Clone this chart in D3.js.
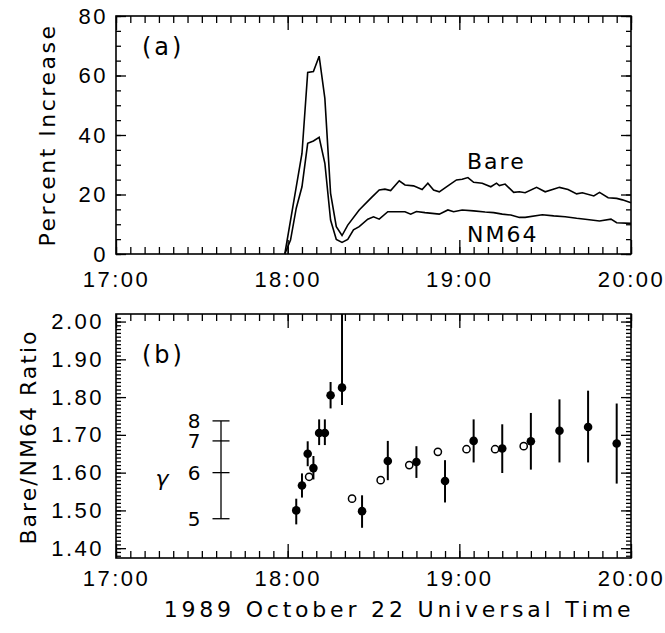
<!DOCTYPE html>
<html lang="en">
<head>
<meta charset="UTF-8">
<title>1989 October 22 GLE</title>
<script src="https://d3js.org/d3.v7.min.js"></script>
<style>
  body { margin: 0; background: #fff; }
  svg { display: block; font-family: 'DejaVu Sans', sans-serif; }
  .tick line { stroke: #000; stroke-width: 1.3; }
  .tick text { font-size: 22px; fill: #000; letter-spacing: 2.5px; }
  .label { font-size: 22px; fill: #000; }
</style>
</head>
<body>
<div id="chart"></div>
<script>
// times are minutes after 17:00 UT
const bareTime  = [59, 63, 65, 67, 69, 71, 73, 75, 77, 79, 81, 85, 89, 92, 94, 96, 99, 101, 104, 107, 109, 111, 113, 116, 119, 121, 123, 125, 128, 131, 133, 134, 136, 139, 141, 143, 147, 150, 155, 158, 161, 163, 167, 169, 172, 175, 177, 180];
const bareValue = [0, 22.6, 33.8, 61.0, 61.3, 66.5, 52.3, 20.4, 9.2, 6.2, 9.7, 14.8, 18.7, 21.5, 21.8, 21.3, 24.6, 23.2, 22.9, 21.7, 23.8, 21.5, 20.9, 22.9, 24.9, 25.1, 25.7, 24.1, 23.8, 22.6, 23.8, 23.0, 23.5, 20.7, 20.9, 20.6, 22.4, 20.9, 22.4, 21.7, 20.2, 20.6, 19.5, 20.7, 18.9, 18.7, 18.2, 17.2];

const nmTime  = [59, 61, 63, 65, 67, 69, 71, 73, 75, 77, 79, 81, 83, 85, 88, 90, 92, 95, 98, 101, 103, 105, 108, 113, 116, 118, 121, 125, 129, 132, 135, 138, 141, 143, 149, 153, 157, 161, 164, 169, 173, 175, 180];
const nmValue = [0, 4.7, 15.4, 22.6, 37.2, 38.0, 39.2, 30.5, 11.4, 4.9, 3.9, 4.9, 8.1, 9.2, 11.7, 12.5, 11.7, 14.2, 14.2, 14.2, 13.4, 14.3, 13.9, 13.4, 14.8, 14.2, 14.8, 14.5, 14.1, 13.9, 13.4, 13.1, 12.3, 12.3, 13.2, 12.8, 12.5, 12.0, 11.7, 11.1, 11.7, 10.5, 10.3];

// Bare/NM64 ratio, filled points with error bars
const ratioTime  = [63, 65, 67, 69, 71, 73, 75, 79, 86, 95, 105, 115, 125, 135, 145, 155, 165, 175];
const ratioValue = [1.50, 1.566, 1.650, 1.612, 1.705, 1.705, 1.805, 1.825, 1.498, 1.631, 1.628, 1.578, 1.684, 1.664, 1.683, 1.711, 1.721, 1.677];
const ratioLow   = [1.463, 1.534, 1.617, 1.582, 1.673, 1.673, 1.770, 1.779, 1.454, 1.580, 1.586, 1.521, 1.627, 1.599, 1.608, 1.627, 1.627, 1.571];
const ratioHigh  = [1.531, 1.598, 1.683, 1.644, 1.741, 1.741, 1.840, 2.05, 1.540, 1.684, 1.670, 1.633, 1.741, 1.728, 1.758, 1.794, 1.817, 1.783];

// open circles
const openTime  = [67.5, 82.5, 92.5, 102.5, 112.5, 122.5, 132.5, 142.5];
const openValue = [1.589, 1.531, 1.580, 1.620, 1.655, 1.662, 1.662, 1.670];

// spectral index scale drawn against the ratio axis
const gammaLabel = ["5", "6", "7", "8"];
const gammaRatio = [1.478, 1.600, 1.684, 1.737];

const percentTicks = [0, 20, 40, 60, 80];
const ratioTicks = [1.40, 1.50, 1.60, 1.70, 1.80, 1.90, 2.00];

const width = 665;
const height = 633;
const left = 116, right = 631;
const panelA = { top: 16, bottom: 254, pad: 17 };
const panelB = { top: 314, bottom: 558, pad: 12 };

const t0 = Date.UTC(1989, 9, 22, 17, 0);
const toDate = m => new Date(t0 + m * 60000);

const x = d3.scaleUtc()
  .domain([toDate(0), toDate(180)])
  .range([left, right]);

const yA = d3.scaleLinear().domain([0, 80]).range([panelA.bottom, panelA.top]);
const yB = d3.scaleLinear().domain([1.374, 2.02]).range([panelB.bottom, panelB.top]);

const svg = d3.select("#chart")
  .append("svg")
  .attr("width", width)
  .attr("height", height);

svg.append("rect").attr("width", width).attr("height", height).attr("fill", "#fff");

const fmt = d3.utcFormat("%H:%M");
const hours = d3.utcHour.every(1).range(toDate(0), toDate(181));
const fiveMin = d3.utcMinute.every(5).range(toDate(0), toDate(181));

function noDomain(g) { g.select(".domain").remove(); }

function frame(p, y, major, minor, yfmt, pad) {
  // bottom axis with labels, top axis without
  svg.append("g")
    .attr("transform", `translate(0,${p.bottom})`)
    .call(d3.axisBottom(x).tickValues(fiveMin).tickSize(-7).tickFormat(""))
    .call(noDomain);
  svg.append("g")
    .attr("transform", `translate(0,${p.bottom})`)
    .call(d3.axisBottom(x).tickValues(hours).tickSize(-14).tickPadding(p.pad).tickFormat(fmt))
    .call(noDomain);
  svg.append("g")
    .attr("transform", `translate(0,${p.top})`)
    .call(d3.axisTop(x).tickValues(fiveMin).tickSize(-7).tickFormat(""))
    .call(noDomain);
  svg.append("g")
    .attr("transform", `translate(0,${p.top})`)
    .call(d3.axisTop(x).tickValues(hours).tickSize(-14).tickFormat(""))
    .call(noDomain);

  // left and right axes
  svg.append("g")
    .attr("transform", `translate(${left},0)`)
    .call(d3.axisLeft(y).tickValues(minor).tickSize(-5).tickFormat(""))
    .call(noDomain);
  svg.append("g")
    .attr("transform", `translate(${left},0)`)
    .call(d3.axisLeft(y).tickValues(major).tickSize(-10).tickPadding(pad).tickFormat(yfmt))
    .call(noDomain);
  svg.append("g")
    .attr("transform", `translate(${right},0)`)
    .call(d3.axisRight(y).tickValues(minor).tickSize(-5).tickFormat(""))
    .call(noDomain);
  svg.append("g")
    .attr("transform", `translate(${right},0)`)
    .call(d3.axisRight(y).tickValues(major).tickSize(-10).tickFormat(""))
    .call(noDomain);

  svg.append("rect")
    .attr("x", left)
    .attr("y", p.top)
    .attr("width", right - left)
    .attr("height", p.bottom - p.top)
    .attr("fill", "none")
    .attr("stroke", "#000")
    .attr("stroke-width", 1.6);
}

// ---- panel (a)
frame(panelA, yA, percentTicks, d3.range(0, 81, 5), d3.format("d"), 8);

const line = d3.line()
  .x(d => x(toDate(d[0])))
  .y(d => yA(d[1]));

svg.append("path")
  .datum(d3.zip(bareTime, bareValue))
  .attr("d", line)
  .attr("fill", "none")
  .attr("stroke", "#000")
  .attr("stroke-width", 1.6);

svg.append("path")
  .datum(d3.zip(nmTime, nmValue))
  .attr("d", line)
  .attr("fill", "none")
  .attr("stroke", "#000")
  .attr("stroke-width", 1.6);

svg.append("text").attr("class", "label")
  .attr("x", 142).attr("y", 55)
  .style("font-size", "24px").style("letter-spacing", "3px")
  .text("(a)");
svg.append("text").attr("class", "label")
  .attr("x", 467).attr("y", 169).style("letter-spacing", "2px").text("Bare");
svg.append("text").attr("class", "label")
  .attr("x", 467).attr("y", 242).style("letter-spacing", "2px").text("NM64");
svg.append("text").attr("class", "label")
  .attr("transform", "translate(55,135) rotate(-90)")
  .attr("text-anchor", "middle")
  .style("letter-spacing", "2.5px")
  .text("Percent Increase");

// ---- panel (b)
const ratioMinor = d3.range(138, 202).map(d => d / 100);
frame(panelB, yB, ratioTicks, ratioMinor, d3.format(".2f"), 12);

svg.append("clipPath").attr("id", "clipB")
  .append("rect")
  .attr("x", left).attr("y", panelB.top)
  .attr("width", right - left).attr("height", panelB.bottom - panelB.top);

const pts = svg.append("g").attr("clip-path", "url(#clipB)");

pts.selectAll(".err")
  .data(d3.range(ratioTime.length))
  .enter().append("line")
  .attr("class", "err")
  .attr("x1", i => x(toDate(ratioTime[i])))
  .attr("x2", i => x(toDate(ratioTime[i])))
  .attr("y1", i => yB(ratioLow[i]))
  .attr("y2", i => yB(ratioHigh[i]))
  .attr("stroke", "#000")
  .attr("stroke-width", 2);

pts.selectAll(".dot")
  .data(d3.range(ratioTime.length))
  .enter().append("circle")
  .attr("class", "dot")
  .attr("cx", i => x(toDate(ratioTime[i])))
  .attr("cy", i => yB(ratioValue[i]))
  .attr("r", 4.3)
  .attr("fill", "#000");

pts.selectAll(".open")
  .data(d3.range(openTime.length))
  .enter().append("circle")
  .attr("class", "open")
  .attr("cx", i => x(toDate(openTime[i])))
  .attr("cy", i => yB(openValue[i]))
  .attr("r", 3.6)
  .attr("fill", "#fff")
  .attr("stroke", "#000")
  .attr("stroke-width", 1.5);

// gamma scale
const gx = x(toDate(36.7));
const gamma = svg.append("g");
gamma.append("line")
  .attr("x1", gx).attr("x2", gx)
  .attr("y1", yB(d3.min(gammaRatio))).attr("y2", yB(d3.max(gammaRatio)))
  .attr("stroke", "#000").attr("stroke-width", 1.3);
gamma.selectAll(".gtick")
  .data(gammaRatio)
  .enter().append("line")
  .attr("x1", gx - 8.5).attr("x2", gx + 8.5)
  .attr("y1", d => yB(d)).attr("y2", d => yB(d))
  .attr("stroke", "#000").attr("stroke-width", 1.3);
gamma.selectAll(".glabel")
  .data(gammaLabel)
  .enter().append("text")
  .attr("class", "label")
  .attr("x", gx - 27)
  .attr("y", (d, i) => yB(gammaRatio[i]))
  .attr("dy", "0.36em")
  .attr("text-anchor", "middle")
  .style("font-size", "20px")
  .text(d => d);
gamma.append("text").attr("class", "label")
  .attr("x", 162).attr("y", yB(gammaRatio[1]) + 5)
  .attr("dy", "0.36em")
  .attr("text-anchor", "middle")
  .style("font-style", "italic")
  .text("γ");

svg.append("text").attr("class", "label")
  .attr("x", 142).attr("y", 363)
  .style("font-size", "24px").style("letter-spacing", "3px")
  .text("(b)");
svg.append("text").attr("class", "label")
  .attr("transform", "translate(36,437) rotate(-90)")
  .attr("text-anchor", "middle")
  .style("letter-spacing", "2px")
  .text("Bare/NM64  Ratio");

svg.append("text").attr("class", "label")
  .attr("x", 399).attr("y", 617)
  .attr("text-anchor", "middle")
  .style("letter-spacing", "3.8px")
  .text("1989 October 22 Universal Time");
</script>
</body>
</html>
